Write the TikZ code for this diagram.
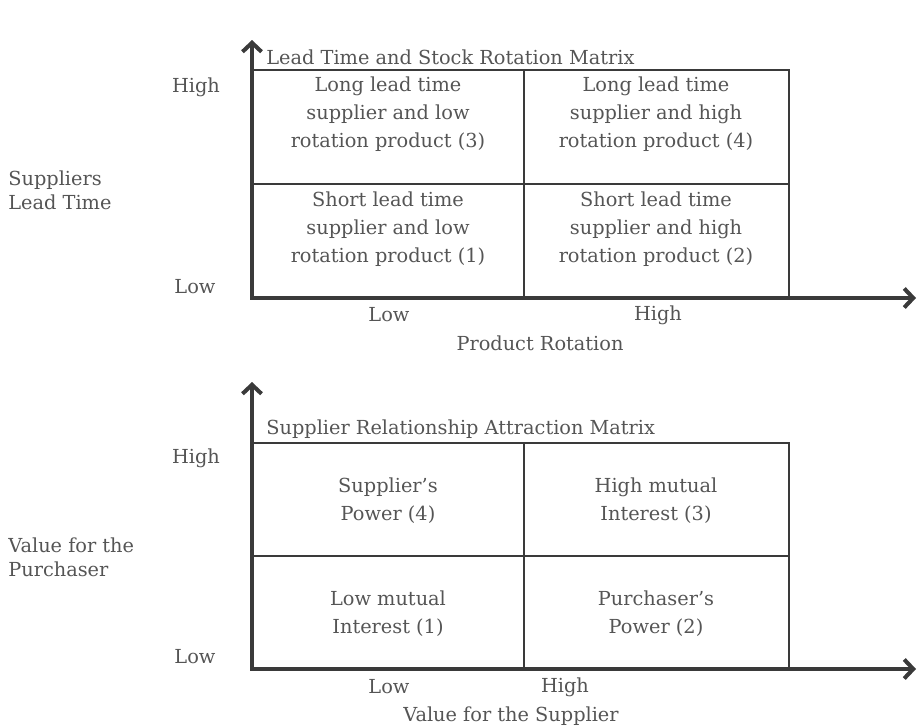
\documentclass[tikz,border=0pt]{standalone}
\usepackage{fontspec}
\setmainfont{DejaVu Serif}
\usepackage{xcolor}
\usepackage{tikz}
\usetikzlibrary{arrows.meta,positioning}
\definecolor{inkgray}{HTML}{3A3A3A}
\definecolor{txtgray}{HTML}{555555}
\tikzset{
  axisline/.style={line width=2.3pt, draw=inkgray, line cap=rect, -{Straight Barb[length=1.8mm,width=3.8mm]}},
  gridline/.style={line width=1.1pt, draw=inkgray},
  cell/.style={align=center, text=txtgray, font=\fontsize{11}{15.9}\selectfont, inner sep=0pt},
  lbl/.style={align=left, text=txtgray, font=\fontsize{11}{13.5}\selectfont, inner sep=0pt},
}

\begin{document}
\begin{tikzpicture}[x=0.02cm,y=-0.02cm]
        \useasboundingbox (0,0) rectangle (919,727);

        % Lead time matrix
        \coordinate (tl1) at (252,70);
        \coordinate (br1) at (789,298);
        \coordinate (o1) at (252,298);
        \coordinate (yend1) at (252,40);
        \coordinate (xend1) at (916,298);
        \draw[gridline] (tl1) rectangle (br1);
        \draw[gridline] (524,70) -- (524,298);
        \draw[gridline] (252,184) -- (789,184);
        \draw[axisline] (o1) -- (yend1);
        \draw[axisline] (o1) -- (xend1);
        \node[lbl, anchor=west] (title1) at (266,57) {Lead Time and Stock Rotation Matrix};
        \node[cell] (c13) at (388,114) {Long lead time\\supplier and low\\rotation product (3)};
        \node[cell] (c14) at (656,114) {Long lead time\\supplier and high\\rotation product (4)};
        \node[cell] (c11) at (388,229) {Short lead time\\supplier and low\\rotation product (1)};
        \node[cell] (c12) at (656,229) {Short lead time\\supplier and high\\rotation product (2)};
        \node[lbl] (yhigh1) at (196,87) {High};
        \node[lbl] (ylow1) at (195,287) {Low};
        \node[lbl, anchor=west] (ylab1) at (8,190) {Suppliers\\Lead Time};
        \node[lbl] (xlow1) at (389,315) {Low};
        \node[lbl] (xhigh1) at (658,315) {High};
        \node[lbl] (xlab1) at (540,343) {Product Rotation};

        % Relationship matrix
        \coordinate (tl2) at (252,443);
        \coordinate (br2) at (789,669);
        \coordinate (o2) at (252,669);
        \coordinate (yend2) at (252,382);
        \coordinate (xend2) at (916,669);
        \draw[gridline] (tl2) rectangle (br2);
        \draw[gridline] (524,443) -- (524,669);
        \draw[gridline] (252,556) -- (789,556);
        \draw[axisline] (o2) -- (yend2);
        \draw[axisline] (o2) -- (xend2);
        \node[lbl, anchor=west] (title2) at (266,429) {Supplier Relationship Attraction Matrix};
        \node[cell] (c24) at (388,501) {Supplier's\\Power (4)};
        \node[cell] (c23) at (656,501) {High mutual\\Interest (3)};
        \node[cell] (c21) at (388,614) {Low mutual\\Interest (1)};
        \node[cell] (c22) at (656,614) {Purchaser's\\Power (2)};
        \node[lbl] (yhigh2) at (196,458) {High};
        \node[lbl] (ylow2) at (195,657) {Low};
        \node[lbl, anchor=west] (ylab2) at (8,557) {Value for the\\Purchaser};
        \node[lbl] (xlow2) at (389,687) {Low};
        \node[lbl] (xhigh2) at (565,687) {High};
        \node[lbl] (xlab2) at (511,716) {Value for the Supplier};
    \end{tikzpicture}
\end{document}
